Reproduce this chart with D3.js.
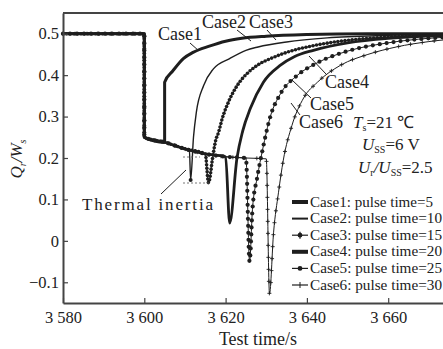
<!DOCTYPE html>
<meta charset="utf-8">
<style>
  body { margin: 0; background: #fff; }
  text { font-family: "Liberation Serif", "Times New Roman", serif; fill: #222; }
</style>
<svg width="443" height="349"></svg>
<script src="https://d3js.org/d3.v7.min.js"></script>
<script>
// ---- data ----
var xTicks = [3580, 3600, 3620, 3640, 3660];
var yTicks = [-0.1, 0, 0.1, 0.2, 0.3, 0.4, 0.5];
var caseNames = ["Case1", "Case2", "Case3", "Case4", "Case5", "Case6"];
var pulseTimes = [5, 10, 15, 20, 25, 30];

// common part before each pulse ends: [time, Q/W]
var baseline = [[3580, 0.5], [3585, 0.5], [3590, 0.5], [3595, 0.5], [3600, 0.5], [3600, 0.25],
  [3605, 0.238], [3610, 0.222], [3615, 0.21], [3620, 0.203], [3625, 0.2], [3630, 0.198]];

var recovery1 = [[3605, 0.383], [3607, 0.41], [3609.6, 0.44], [3612, 0.455], [3616, 0.47],
  [3620, 0.482], [3624, 0.489], [3630, 0.494], [3640, 0.498], [3655, 0.5], [3680, 0.5]];
var recovery2 = [[3611.1, 0.218], [3611.4, 0.147], [3612.1, 0.25], [3612.8, 0.31], [3614.6, 0.375],
  [3617, 0.415], [3621, 0.44], [3625, 0.46], [3628, 0.468], [3635, 0.48], [3645, 0.49], [3660, 0.496], [3680, 0.499]];
var recovery3 = [[3615.8, 0.14], [3616.8, 0.2], [3617.5, 0.24], [3618.3, 0.263], [3619.2, 0.296],
  [3620.7, 0.335], [3623.2, 0.38], [3625.4, 0.405], [3628, 0.425], [3631.8, 0.443], [3636, 0.458],
  [3642, 0.472], [3650, 0.484], [3660, 0.492], [3680, 0.498]];
var recovery4 = [[3621, 0.043], [3622.8, 0.2], [3624.2, 0.265], [3626.1, 0.32], [3629.3, 0.383],
  [3633.5, 0.424], [3637, 0.445], [3641.6, 0.46], [3650, 0.478], [3660, 0.489], [3680, 0.497]];
var recovery5 = [[3625.9, -0.05], [3626.6, 0.075], [3627.8, 0.154], [3629.1, 0.22], [3631, 0.3],
  [3633.5, 0.355], [3637.7, 0.4], [3642.6, 0.43], [3650, 0.458], [3660, 0.478], [3670, 0.489], [3680, 0.494]];
var recovery6 = [[3630.8, -0.128], [3631.8, 0.02], [3633, 0.116], [3634.2, 0.195], [3636.3, 0.278],
  [3639.2, 0.345], [3642.6, 0.383], [3648.3, 0.424], [3655, 0.45], [3662, 0.468], [3670, 0.481], [3680, 0.49]];
var recoveries = [recovery1, recovery2, recovery3, recovery4, recovery5, recovery6];

// ---- chart ----
var svg = d3.select("svg");
var ink = "#1e1e1e";

var x = d3.scaleLinear().domain([3580, 3680]).range([63, 469.5]);
var y = d3.scaleLinear().domain([-0.15, 0.55]).range([303, 13]);

var series = caseNames.map(function(name, i) {
  var end = 3600 + pulseTimes[i];
  return {
    name: name,
    pulse: pulseTimes[i],
    values: baseline.filter(function(p) { return p[0] <= end; }).concat(recoveries[i])
  };
});

var styles = [
  { width: 3, marker: null },
  { width: 1.4, marker: null },
  { width: 1, marker: "dot", r: 1.8, step: 3.6 },
  { width: 2.8, marker: null },
  { width: 1, marker: "dot", r: 2.1, step: 7 },
  { width: 1, marker: "plus", r: 2, step: 12 }
];

var line = d3.line()
  .x(function(d) { return x(d[0]); })
  .y(function(d) { return y(d[1]); })
  .curve(d3.curveMonotoneX);

var plot = svg.append("g");

series.forEach(function(s, i) {
  var st = styles[i];
  var path = plot.append("path")
    .datum(s.values)
    .attr("fill", "none")
    .attr("stroke", ink)
    .attr("stroke-width", st.width)
    .attr("stroke-linejoin", "round")
    .attr("d", line);

  if (st.marker) {
    var node = path.node(), len = node.getTotalLength(), pts = [];
    for (var l = 0; l <= len; l += st.step) pts.push(node.getPointAtLength(l));
    var g = plot.append("g");
    if (st.marker == "dot") {
      g.selectAll("circle").data(pts).enter().append("circle")
        .attr("cx", function(p) { return p.x; })
        .attr("cy", function(p) { return p.y; })
        .attr("r", st.r)
        .attr("fill", ink);
    } else {
      g.selectAll("path").data(pts).enter().append("path")
        .attr("d", function(p) {
          return "M" + (p.x - st.r) + "," + p.y + "h" + 2 * st.r + "M" + p.x + "," + (p.y - st.r) + "v" + 2 * st.r;
        })
        .attr("stroke", ink)
        .attr("stroke-width", 0.9);
    }
  }
});

// dot at the bottom of the case 2 dip
plot.append("circle")
  .attr("cx", x(recovery2[1][0])).attr("cy", y(recovery2[1][1]))
  .attr("r", 2).attr("fill", ink);

// axes
var xAxis = svg.append("g")
  .attr("transform", "translate(0," + y(-0.15) + ")")
  .call(d3.axisBottom(x).tickValues(xTicks).tickSizeInner(-5).tickSizeOuter(0).tickPadding(8)
    .tickFormat(function(d) { return d3.format(",")(d).replace(",", " "); }));

var yAxis = svg.append("g")
  .attr("transform", "translate(" + x(3580) + ",0)")
  .call(d3.axisLeft(y).tickValues(yTicks).tickSizeInner(-5).tickSizeOuter(0).tickPadding(4)
    .tickFormat(function(d) { return d === 0 ? "0" : d3.format(".1f")(d); }));

[xAxis, yAxis].forEach(function(a) {
  a.select(".domain").attr("stroke", "#444").attr("stroke-width", 2);
  a.selectAll(".tick line").attr("stroke", "#444").attr("stroke-width", 1.2);
  a.selectAll(".tick text").attr("font-family", "Liberation Serif").attr("font-size", 16.5).attr("fill", "#333");
});

// top frame line
svg.append("line")
  .attr("x1", x(3580)).attr("x2", 443)
  .attr("y1", y(0.55)).attr("y2", y(0.55))
  .attr("stroke", "#444").attr("stroke-width", 2);

// axis titles
svg.append("text")
  .attr("x", 258).attr("y", 345)
  .attr("text-anchor", "middle")
  .attr("font-size", 18)
  .text("Test time/s");

var yl = svg.append("text")
  .attr("transform", "translate(22,159) rotate(-90)")
  .attr("text-anchor", "middle")
  .attr("font-size", 17)
  .attr("font-style", "italic");
yl.append("tspan").text("Q");
yl.append("tspan").attr("font-size", 10).attr("dy", 4).text("r");
yl.append("tspan").attr("dy", -4).text("/W");
yl.append("tspan").attr("font-size", 10).attr("dy", 4).text("s");

// case labels with leader lines
var labels = [
  { text: "Case1", x: 158, y: 40, lx1: 190, ly1: 43, lx2: 199, ly2: 51 },
  { text: "Case2", x: 202, y: 28, lx1: 237, ly1: 30, lx2: 251, ly2: 41 },
  { text: "Case3", x: 249, y: 28, lx1: 267, ly1: 30, lx2: 276, ly2: 40 },
  { text: "Case4", x: 325, y: 88, lx1: 326, ly1: 74, lx2: 309, ly2: 56 },
  { text: "Case5", x: 310, y: 110, lx1: 311, ly1: 98, lx2: 292, ly2: 80 },
  { text: "Case6", x: 299, y: 128, lx1: 300, ly1: 115, lx2: 291, ly2: 103 }
];
labels.forEach(function(d) {
  svg.append("text").attr("x", d.x).attr("y", d.y).attr("font-size", 18).text(d.text);
  svg.append("line").attr("x1", d.lx1).attr("y1", d.ly1).attr("x2", d.lx2).attr("y2", d.ly2)
    .attr("stroke", ink).attr("stroke-width", 1);
});

// test conditions
function cond(xp, yp, main, sub, rest) {
  var t = svg.append("text").attr("x", xp).attr("y", yp).attr("font-size", 17);
  t.append("tspan").attr("font-style", "italic").text(main);
  t.append("tspan").attr("font-size", 10).attr("dy", 3).text(sub);
  t.append("tspan").attr("dy", -3).text(rest);
  return t;
}
cond(353, 128, "T", "s", "=21 \u2103");
cond(362, 150, "U", "SS", "=6 V");
var c3 = svg.append("text").attr("x", 358).attr("y", 173).attr("font-size", 17);
c3.append("tspan").attr("font-style", "italic").text("U");
c3.append("tspan").attr("font-size", 10).attr("dy", 3).text("r");
c3.append("tspan").attr("dy", -3).attr("font-style", "italic").text("/U");
c3.append("tspan").attr("font-size", 10).attr("dy", 3).text("SS");
c3.append("tspan").attr("dy", -3).text("=2.5");

// thermal inertia note
svg.append("text").attr("x", 82).attr("y", 210).attr("font-size", 17)
  .attr("textLength", 131).attr("lengthAdjust", "spacing").text("Thermal inertia");
svg.append("line").attr("x1", 161).attr("y1", 194).attr("x2", 186).attr("y2", 170)
  .attr("stroke", ink).attr("stroke-width", 1);
[[183, 200, 157], [183, 210, 183]].forEach(function(d) {
  svg.append("line").attr("x1", d[0]).attr("x2", d[1]).attr("y1", d[2]).attr("y2", d[2])
    .attr("stroke", "#555").attr("stroke-width", 0.8).attr("stroke-dasharray", "2,2");
});

// legend
var leg = svg.append("g");
series.forEach(function(s, i) {
  var st = styles[i], yy = 202 + i * 16.6;
  leg.append("line").attr("x1", 292).attr("x2", 308).attr("y1", yy).attr("y2", yy)
    .attr("stroke", ink).attr("stroke-width", st.width > 2 ? 4 : (st.width > 1.2 ? 2 : 1.2));
  if (st.marker == "dot") {
    leg.append("circle").attr("cx", 300).attr("cy", yy).attr("r", 2.4).attr("fill", ink);
  } else if (st.marker == "plus") {
    leg.append("path").attr("d", "M300," + (yy - 3) + "v6").attr("stroke", ink).attr("stroke-width", 1);
  }
  if (i == 2) {
    leg.append("path").attr("d", "M300," + (yy - 3.5) + "v7").attr("stroke", ink).attr("stroke-width", 1.2);
  }
  leg.append("text").attr("x", 310).attr("y", yy + 4.5).attr("font-size", 14)
    .attr("textLength", s.pulse < 10 ? 123 : 132).attr("lengthAdjust", "spacingAndGlyphs")
    .text(s.name + ": pulse time=" + s.pulse);
});
</script>
